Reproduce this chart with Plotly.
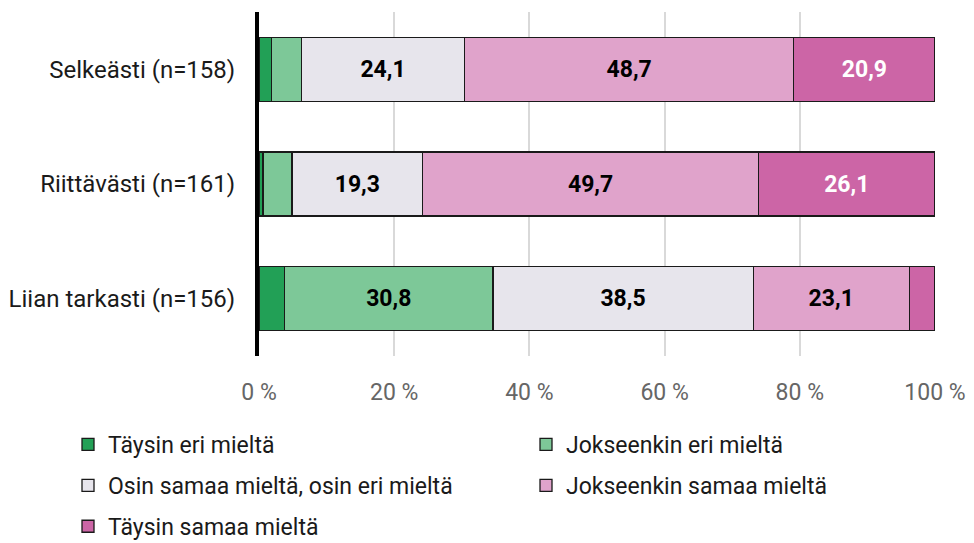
import plotly.graph_objects as go

categories = ["Selkeästi (n=158)", "Riittävästi (n=161)", "Liian tarkasti (n=156)"]
series_names = ["Täysin eri mieltä", "Jokseenkin eri mieltä", "Osin samaa mieltä, osin eri mieltä",
                "Jokseenkin samaa mieltä", "Täysin samaa mieltä"]
taysin_eri = [1.9, 0.6, 3.8]
jokseenkin_eri = [4.4, 4.3, 30.8]
osin = [24.1, 19.3, 38.5]
jokseenkin_samaa = [48.7, 49.7, 23.1]
taysin_samaa = [20.9, 26.1, 3.8]
tick_vals = [0, 20, 40, 60, 80, 100]
tick_text = ["0 %", "20 %", "40 %", "60 %", "80 %", "100 %"]

colors = ["#22a056", "#7dc898", "#e7e5ec", "#e0a3cb", "#cc65a6"]
text_colors = ["white", "black", "black", "black", "white"]
legend_ids = ["legend", "legend2", "legend", "legend2", "legend"]
series = [taysin_eri, jokseenkin_eri, osin, jokseenkin_samaa, taysin_samaa]

FONT = "Roboto, sans-serif"

fig = go.Figure()
for i, (name, vals, col, tcol, lg) in enumerate(zip(series_names, series, colors, text_colors, legend_ids)):
    labels = [f"{v:.1f}".replace(".", ",") if v >= 10 else "" for v in vals]
    fig.add_trace(go.Bar(
        y=categories, x=vals, name=name, orientation="h",
        marker=dict(color=col, line=dict(color="#1a1a1a", width=1.3)),
        text=labels, textposition="inside", insidetextanchor="middle",
        textfont=dict(family=FONT, size=23, color=tcol, weight="bold"),
        width=0.56, hoverinfo="x+name", legend=lg, legendgroup=f"g{i}",
    ))

legend_common = dict(orientation="v", xref="container", yref="container",
                     xanchor="left", yanchor="top", tracegroupgap=8,
                     font=dict(family=FONT, size=23, color="#1a1a1a"),
                     itemwidth=30, bgcolor="rgba(0,0,0,0)")

fig.update_layout(
    barmode="stack",
    width=974, height=543,
    margin=dict(l=259, r=39, t=12, b=187, autoexpand=False),
    plot_bgcolor="white", paper_bgcolor="white",
    font=dict(family=FONT, size=20, color="#1a1a1a"),
    xaxis=dict(range=[0, 100], tickvals=tick_vals, ticktext=tick_text,
               showgrid=True, gridcolor="#d9d9d9", gridwidth=1.5,
               tickfont=dict(family=FONT, size=23, color="#666666"), zeroline=False,
               ticks="", automargin=False, ticklabelstandoff=20),
    yaxis=dict(autorange="reversed", showline=True, linecolor="black", linewidth=4,
               ticks="", automargin=False, ticklabelstandoff=15,
               tickfont=dict(family=FONT, size=24, color="#1a1a1a")),
    legend=dict(x=68 / 974, y=1 - 423 / 543, **legend_common),
    legend2=dict(x=526 / 974, y=1 - 423 / 543, **legend_common),
    uniformtext=dict(mode="show", minsize=10),
)

fig.write_html("out.html", config={"displayModeBar": False},
               post_script="document.body.style.margin='0';")
